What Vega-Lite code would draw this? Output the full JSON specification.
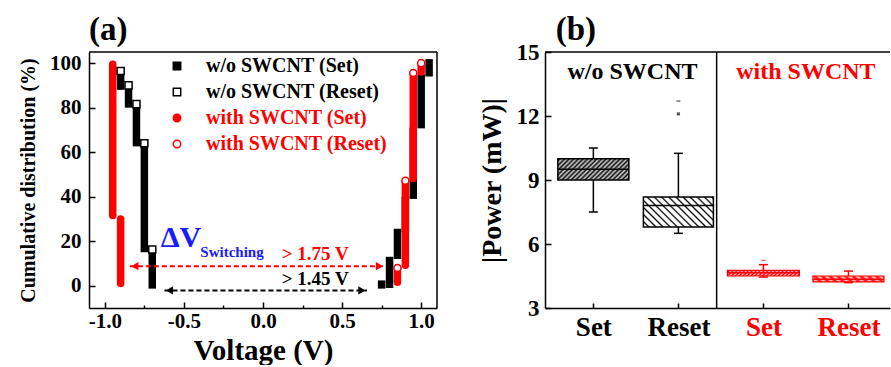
{
"$schema":"https://vega.github.io/schema/vega-lite/v6.json",
"background":"white",
"padding":{"left":18,"top":13,"right":0,"bottom":0},
"spacing":108,
"bounds":"flush",
"resolve":{"scale":{"color":"independent","fill":"independent","stroke":"independent","shape":"independent"}},
"config":{
 "font":"Liberation Serif",
 "view":{"stroke":null},
 "axis":{"labelFont":"Liberation Serif","labelFontWeight":"bold","labelColor":"black","titleFont":"Liberation Serif","titleFontWeight":"bold","titleColor":"black","domainColor":"black","domainWidth":1.5,"tickColor":"black","tickWidth":1.5,"grid":false,"labelOverlap":false}
},
"datasets":{
 "cols":[
  {"group":"w/o SWCNT","v":-0.90,"lo":88,"hi":96.5},
  {"group":"w/o SWCNT","v":-0.85,"lo":80,"hi":90},
  {"group":"w/o SWCNT","v":-0.80,"lo":62.6,"hi":81.6},
  {"group":"w/o SWCNT","v":-0.75,"lo":15,"hi":64},
  {"group":"w/o SWCNT","v":-0.70,"lo":-1.3,"hi":16.3},
  {"group":"w/o SWCNT","v":0.75,"lo":-1.3,"hi":2.4},
  {"group":"w/o SWCNT","v":0.80,"lo":-1,"hi":13},
  {"group":"w/o SWCNT","v":0.85,"lo":12,"hi":25.6},
  {"group":"w/o SWCNT","v":0.90,"lo":24,"hi":40},
  {"group":"w/o SWCNT","v":0.95,"lo":39,"hi":71},
  {"group":"w/o SWCNT","v":1.00,"lo":70.7,"hi":95},
  {"group":"w/o SWCNT","v":1.05,"lo":94,"hi":101.8},
  {"group":"with SWCNT","v":-0.95,"lo":31.5,"hi":99.5},
  {"group":"with SWCNT","v":-0.90,"lo":1,"hi":30},
  {"group":"with SWCNT","v":0.85,"lo":1.6,"hi":8},
  {"group":"with SWCNT","v":0.90,"lo":9.2,"hi":47.2},
  {"group":"with SWCNT","v":0.95,"lo":48.2,"hi":95.6},
  {"group":"with SWCNT","v":1.00,"lo":96,"hi":100}
 ],
 "tops":[
  {"series":"w/o SWCNT (Reset)","v":-0.90,"p":96.5},
  {"series":"w/o SWCNT (Reset)","v":-0.85,"p":90},
  {"series":"w/o SWCNT (Reset)","v":-0.80,"p":81.6},
  {"series":"w/o SWCNT (Reset)","v":-0.75,"p":64},
  {"series":"w/o SWCNT (Reset)","v":-0.70,"p":16.3},
  {"series":"with SWCNT (Reset)","v":0.85,"p":8},
  {"series":"with SWCNT (Reset)","v":0.90,"p":47.2},
  {"series":"with SWCNT (Reset)","v":0.95,"p":95.6},
  {"series":"with SWCNT (Reset)","v":1.00,"p":100}
 ],
 "arrows":[
  {"group":"with SWCNT","x1":-0.842,"x2":0.768,"y":8.8},
  {"group":"w/o SWCNT","x1":-0.623,"x2":0.657,"y":-2.1}
 ],
 "notes":[
  {"label":"ΔV","x":-0.646,"y":17.5,"kind":"dv"},
  {"label":"Switching","x":-0.396,"y":13,"kind":"sub"},
  {"label":"> 1.75 V","x":0.118,"y":11.7,"kind":"red"},
  {"label":"> 1.45 V","x":0.118,"y":0.4,"kind":"black"},
  {"label":"(a)","x":-1.1,"y":110.5,"kind":"panel"}
 ],
 "frameA":[{"ytop":105,"xright":1.1}],
 "boxes":[
  {"pos":1,"group":"w/o SWCNT","lo":7.5,"q1":9.0,"med":9.5,"q3":10.0,"hi":10.5},
  {"pos":2,"group":"w/o SWCNT","lo":6.5,"q1":6.8,"med":7.8,"q3":8.2,"hi":10.25},
  {"pos":3,"group":"with SWCNT","lo":4.45,"q1":4.5,"med":4.65,"q3":4.76,"hi":5.03},
  {"pos":4,"group":"with SWCNT","lo":4.19,"q1":4.22,"med":4.35,"q3":4.5,"hi":4.73}
 ],
 "outliers":[
  {"pos":2,"group":"w/o SWCNT","val":12.1,"kind":"x"},
  {"pos":2,"group":"w/o SWCNT","val":12.7,"kind":"dash"},
  {"pos":3,"group":"with SWCNT","val":5.23,"kind":"dash"}
 ],
 "heads":[
  {"label":"w/o SWCNT","pos":1.46,"y":13.72,"group":"w/o SWCNT"},
  {"label":"with SWCNT","pos":3.5,"y":13.72,"group":"with SWCNT"}
 ],
 "panelB":[{"label":"(b)","pos":0.558,"y":15.56}],
 "frame":[{"ytop":15,"xdiv":2.45}]
},
"hconcat":[
 {
  "width":348,"height":256,
  "layer":[
   {"data":{"name":"cols"},"transform":[{"filter":"datum.group == 'w/o SWCNT'"}],
    "mark":{"type":"rule","strokeWidth":7.5,"strokeCap":"butt"},
    "encoding":{
     "x":{"field":"v","type":"quantitative","scale":{"domain":[-1.1,1.1],"nice":false,"zero":false},
      "axis":{"title":"Voltage (V)","values":[-1,-0.75,-0.5,-0.25,0,0.25,0.5,0.75,1],"labelExpr":"(datum.value * 4) % 2 != 0 ? '' : (datum.value < 0 ? '-' : '') + format(abs(datum.value), '.1f')","tickSize":{"condition":{"test":"(datum.value * 4) % 2 != 0","value":-3},"value":-6},"labelPadding":8,"labelFontSize":21,"titleFontSize":29,"titlePadding":2}},
     "y":{"field":"lo","type":"quantitative","scale":{"domain":[-10,105],"nice":false,"zero":false},
      "axis":{"title":"Cumulative distribution (%)","values":[0,10,20,30,40,50,60,70,80,90,100],"labelExpr":"datum.value % 20 == 0 ? datum.label : ''","tickSize":{"condition":{"test":"datum.value % 20 != 0","value":-3},"value":-6},"labelPadding":14,"labelFontSize":21,"titleFontSize":20,"titlePadding":11}},
     "y2":{"field":"hi"},
     "color":{"field":"group","type":"nominal","scale":{"domain":["w/o SWCNT","with SWCNT"],"range":["black","red"]},"legend":null}
    }},
   {"data":{"name":"frameA"},
    "mark":{"type":"rule","strokeWidth":1.5,"color":"black"},
    "encoding":{"y":{"field":"ytop","type":"quantitative"}}},
   {"data":{"name":"frameA"},
    "mark":{"type":"rule","strokeWidth":1.5,"color":"black"},
    "encoding":{"x":{"field":"xright","type":"quantitative"}}},
   {"data":{"name":"cols"},"transform":[{"filter":"datum.group == 'with SWCNT'"}],
    "mark":{"type":"rule","strokeWidth":7.5,"strokeCap":"round"},
    "encoding":{
     "x":{"field":"v","type":"quantitative"},
     "y":{"field":"lo","type":"quantitative"},
     "y2":{"field":"hi"},
     "color":{"field":"group","type":"nominal","scale":{"domain":["w/o SWCNT","with SWCNT"],"range":["black","red"]},"legend":null}
    }},
   {"data":{"name":"arrows"},
    "mark":{"type":"rule","strokeWidth":2,"strokeDash":[5,3]},
    "encoding":{
     "x":{"field":"x1","type":"quantitative"},
     "x2":{"field":"x2"},
     "y":{"field":"y","type":"quantitative"},
     "color":{"field":"group","type":"nominal","scale":{"domain":["w/o SWCNT","with SWCNT"],"range":["black","red"]},"legend":null}
    }},
   {"data":{"name":"arrows"},
    "mark":{"type":"point","shape":"triangle-left","filled":true,"size":70,"opacity":1,"xOffset":5},
    "encoding":{
     "x":{"field":"x1","type":"quantitative"},
     "y":{"field":"y","type":"quantitative"},
     "color":{"field":"group","type":"nominal","scale":{"domain":["w/o SWCNT","with SWCNT"],"range":["black","red"]},"legend":null}
    }},
   {"data":{"name":"arrows"},
    "mark":{"type":"point","shape":"triangle-right","filled":true,"size":70,"opacity":1,"xOffset":-5},
    "encoding":{
     "x":{"field":"x2","type":"quantitative"},
     "y":{"field":"y","type":"quantitative"},
     "color":{"field":"group","type":"nominal","scale":{"domain":["w/o SWCNT","with SWCNT"],"range":["black","red"]},"legend":null}
    }},
   {"data":{"name":"tops"},
    "mark":{"type":"point","filled":true,"size":50,"strokeWidth":1.5,"opacity":1},
    "encoding":{
     "x":{"field":"v","type":"quantitative"},
     "y":{"field":"p","type":"quantitative"},
     "shape":{"field":"series","type":"nominal","scale":{"domain":["w/o SWCNT (Set)","w/o SWCNT (Reset)","with SWCNT (Set)","with SWCNT (Reset)"],"range":["square","square","circle","circle"]},
      "legend":{"title":null,"orient":"none","legendX":78,"legendY":4,"labelFont":"Liberation Serif","labelFontWeight":"bold","labelFontSize":20,"labelColor":{"expr":"indexof(datum.label, 'with') == 0 ? 'red' : 'black'"},"symbolSize":55,"symbolStrokeWidth":1.5,"rowPadding":6,"labelOffset":19,"labelLimit":300}},
     "fill":{"field":"series","type":"nominal","scale":{"domain":["w/o SWCNT (Set)","w/o SWCNT (Reset)","with SWCNT (Set)","with SWCNT (Reset)"],"range":["black","white","red","white"]},
      "legend":{"title":null,"orient":"none","legendX":78,"legendY":4,"labelFont":"Liberation Serif","labelFontWeight":"bold","labelFontSize":20,"labelColor":{"expr":"indexof(datum.label, 'with') == 0 ? 'red' : 'black'"},"symbolSize":55,"symbolStrokeWidth":1.5,"rowPadding":6,"labelOffset":19,"labelLimit":300}},
     "stroke":{"field":"series","type":"nominal","scale":{"domain":["w/o SWCNT (Set)","w/o SWCNT (Reset)","with SWCNT (Set)","with SWCNT (Reset)"],"range":["black","black","red","red"]},
      "legend":{"title":null,"orient":"none","legendX":78,"legendY":4,"labelFont":"Liberation Serif","labelFontWeight":"bold","labelFontSize":20,"labelColor":{"expr":"indexof(datum.label, 'with') == 0 ? 'red' : 'black'"},"symbolSize":55,"symbolStrokeWidth":1.5,"rowPadding":6,"labelOffset":19,"labelLimit":300}}
    }},
   {"data":{"name":"notes"},"transform":[{"filter":"datum.kind == 'dv'"}],
    "mark":{"type":"text","fontSize":30,"fontWeight":"bold","font":"Liberation Serif","color":"#1a1aff","align":"left","baseline":"alphabetic"},
    "encoding":{"x":{"field":"x","type":"quantitative"},"y":{"field":"y","type":"quantitative"},"text":{"field":"label"}}},
   {"data":{"name":"notes"},"transform":[{"filter":"datum.kind == 'sub'"}],
    "mark":{"type":"text","fontSize":15,"fontWeight":"bold","font":"Liberation Serif","color":"#1a1aff","align":"left","baseline":"alphabetic"},
    "encoding":{"x":{"field":"x","type":"quantitative"},"y":{"field":"y","type":"quantitative"},"text":{"field":"label"}}},
   {"data":{"name":"notes"},"transform":[{"filter":"datum.kind == 'red'"}],
    "mark":{"type":"text","fontSize":19,"fontWeight":"bold","font":"Liberation Serif","color":"red","align":"left","baseline":"alphabetic"},
    "encoding":{"x":{"field":"x","type":"quantitative"},"y":{"field":"y","type":"quantitative"},"text":{"field":"label"}}},
   {"data":{"name":"notes"},"transform":[{"filter":"datum.kind == 'black'"}],
    "mark":{"type":"text","fontSize":19,"fontWeight":"bold","font":"Liberation Serif","color":"black","align":"left","baseline":"alphabetic"},
    "encoding":{"x":{"field":"x","type":"quantitative"},"y":{"field":"y","type":"quantitative"},"text":{"field":"label"}}},
   {"data":{"name":"notes"},"transform":[{"filter":"datum.kind == 'panel'"}],
    "mark":{"type":"text","fontSize":33,"fontWeight":"bold","font":"Liberation Serif","color":"black","align":"left","baseline":"alphabetic"},
    "encoding":{"x":{"field":"x","type":"quantitative"},"y":{"field":"y","type":"quantitative"},"text":{"field":"label"}}}
  ]
 },
 {
  "width":345,"height":256,
  "layer":[
   {"data":{"name":"boxes"},
    "mark":{"type":"rule","strokeWidth":1.5},
    "encoding":{
     "x":{"field":"pos","type":"quantitative","scale":{"domain":[0.49,4.43],"nice":false,"zero":false},
      "axis":{"title":null,"values":[1,2,3,4],"labelExpr":"datum.value % 2 == 1 ? 'Set' : 'Reset'","labelColor":{"condition":{"test":"datum.value > 2.5","value":"red"},"value":"black"},"tickSize":-5,"labelPadding":11,"labelFontSize":27}},
     "y":{"field":"lo","type":"quantitative","scale":{"domain":[3,15],"nice":false,"zero":false},
      "axis":{"title":"|Power (mW)|","values":[3,4.5,6,7.5,9,10.5,12,13.5,15],"labelExpr":"datum.value % 3 == 0 ? datum.label : ''","tickSize":{"condition":{"test":"datum.value % 3 != 0","value":-3},"value":-6},"labelPadding":12,"labelFontSize":23,"titleFontSize":28,"titlePadding":10}},
     "y2":{"field":"hi"},
     "color":{"field":"group","type":"nominal","scale":{"domain":["w/o SWCNT","with SWCNT"],"range":["black","red"]},"legend":null}
    }},
   {"data":{"name":"boxes"},
    "mark":{"type":"tick","orient":"horizontal","size":9,"thickness":1.5,"opacity":1},
    "encoding":{"x":{"field":"pos","type":"quantitative"},"y":{"field":"hi","type":"quantitative"},
     "color":{"field":"group","type":"nominal","scale":{"domain":["w/o SWCNT","with SWCNT"],"range":["black","red"]},"legend":null}}},
   {"data":{"name":"boxes"},
    "mark":{"type":"tick","orient":"horizontal","size":9,"thickness":1.5,"opacity":1},
    "encoding":{"x":{"field":"pos","type":"quantitative"},"y":{"field":"lo","type":"quantitative"},
     "color":{"field":"group","type":"nominal","scale":{"domain":["w/o SWCNT","with SWCNT"],"range":["black","red"]},"legend":null}}},
   {"data":{"name":"boxes"},"transform":[{"filter":"datum.pos == 1"}],
    "mark":{"type":"bar","width":71,"stroke":"black","strokeWidth":1.5,
     "fill":{"gradient":"linear","x1":0,"y1":0,"x2":1.193,"y2":0.359,"stops":[
      {"offset":0,"color":"#ccc"},{"offset":0.025,"color":"#111"},{"offset":0.05,"color":"#ccc"},{"offset":0.075,"color":"#111"},{"offset":0.1,"color":"#ccc"},{"offset":0.125,"color":"#111"},{"offset":0.15,"color":"#ccc"},{"offset":0.175,"color":"#111"},{"offset":0.2,"color":"#ccc"},{"offset":0.225,"color":"#111"},{"offset":0.25,"color":"#ccc"},{"offset":0.275,"color":"#111"},{"offset":0.3,"color":"#ccc"},{"offset":0.325,"color":"#111"},{"offset":0.35,"color":"#ccc"},{"offset":0.375,"color":"#111"},{"offset":0.4,"color":"#ccc"},{"offset":0.425,"color":"#111"},{"offset":0.45,"color":"#ccc"},{"offset":0.475,"color":"#111"},{"offset":0.5,"color":"#ccc"},{"offset":0.525,"color":"#111"},{"offset":0.55,"color":"#ccc"},{"offset":0.575,"color":"#111"},{"offset":0.6,"color":"#ccc"},{"offset":0.625,"color":"#111"},{"offset":0.65,"color":"#ccc"},{"offset":0.675,"color":"#111"},{"offset":0.7,"color":"#ccc"},{"offset":0.725,"color":"#111"},{"offset":0.75,"color":"#ccc"},{"offset":0.775,"color":"#111"},{"offset":0.8,"color":"#ccc"},{"offset":0.825,"color":"#111"},{"offset":0.85,"color":"#ccc"},{"offset":0.875,"color":"#111"},{"offset":0.9,"color":"#ccc"},{"offset":0.925,"color":"#111"},{"offset":0.95,"color":"#ccc"},{"offset":0.975,"color":"#111"},{"offset":1,"color":"#ccc"}]}},
    "encoding":{"x":{"field":"pos","type":"quantitative"},"y":{"field":"q1","type":"quantitative"},"y2":{"field":"q3"}}},
   {"data":{"name":"boxes"},"transform":[{"filter":"datum.pos == 2"}],
    "mark":{"type":"bar","width":70,"stroke":"black","strokeWidth":1.5,
     "fill":{"gradient":"linear","x1":0,"y1":1,"x2":1.207,"y2":0.482,"stops":[
      {"offset":0,"color":"#fff"},
      {"offset":0.0357,"color":"#fff"},{"offset":0.0536,"color":"#000"},{"offset":0.0714,"color":"#fff"},
      {"offset":0.1071,"color":"#fff"},{"offset":0.125,"color":"#000"},{"offset":0.1429,"color":"#fff"},
      {"offset":0.1786,"color":"#fff"},{"offset":0.1964,"color":"#000"},{"offset":0.2143,"color":"#fff"},
      {"offset":0.25,"color":"#fff"},{"offset":0.2679,"color":"#000"},{"offset":0.2857,"color":"#fff"},
      {"offset":0.3214,"color":"#fff"},{"offset":0.3393,"color":"#000"},{"offset":0.3571,"color":"#fff"},
      {"offset":0.3929,"color":"#fff"},{"offset":0.4107,"color":"#000"},{"offset":0.4286,"color":"#fff"},
      {"offset":0.4643,"color":"#fff"},{"offset":0.4821,"color":"#000"},{"offset":0.5,"color":"#fff"},
      {"offset":0.5357,"color":"#fff"},{"offset":0.5536,"color":"#000"},{"offset":0.5714,"color":"#fff"},
      {"offset":0.6071,"color":"#fff"},{"offset":0.625,"color":"#000"},{"offset":0.6429,"color":"#fff"},
      {"offset":0.6786,"color":"#fff"},{"offset":0.6964,"color":"#000"},{"offset":0.7143,"color":"#fff"},
      {"offset":0.75,"color":"#fff"},{"offset":0.7679,"color":"#000"},{"offset":0.7857,"color":"#fff"},
      {"offset":0.8214,"color":"#fff"},{"offset":0.8393,"color":"#000"},{"offset":0.8571,"color":"#fff"},
      {"offset":0.8929,"color":"#fff"},{"offset":0.9107,"color":"#000"},{"offset":0.9286,"color":"#fff"},
      {"offset":0.9643,"color":"#fff"},{"offset":0.9821,"color":"#000"},{"offset":1,"color":"#fff"}]}},
    "encoding":{"x":{"field":"pos","type":"quantitative"},"y":{"field":"q1","type":"quantitative"},"y2":{"field":"q3"}}},
   {"data":{"name":"boxes"},"transform":[{"filter":"datum.pos == 3"}],
    "mark":{"type":"bar","width":72,"stroke":"red","strokeWidth":1.2,
     "fill":{"gradient":"linear","x1":0,"y1":0,"x2":1.071,"y2":0.0833,"stops":[
      {"offset":0,"color":"#ffc8c8"},{"offset":0.025,"color":"#f00"},{"offset":0.05,"color":"#ffc8c8"},{"offset":0.075,"color":"#f00"},{"offset":0.1,"color":"#ffc8c8"},{"offset":0.125,"color":"#f00"},{"offset":0.15,"color":"#ffc8c8"},{"offset":0.175,"color":"#f00"},{"offset":0.2,"color":"#ffc8c8"},{"offset":0.225,"color":"#f00"},{"offset":0.25,"color":"#ffc8c8"},{"offset":0.275,"color":"#f00"},{"offset":0.3,"color":"#ffc8c8"},{"offset":0.325,"color":"#f00"},{"offset":0.35,"color":"#ffc8c8"},{"offset":0.375,"color":"#f00"},{"offset":0.4,"color":"#ffc8c8"},{"offset":0.425,"color":"#f00"},{"offset":0.45,"color":"#ffc8c8"},{"offset":0.475,"color":"#f00"},{"offset":0.5,"color":"#ffc8c8"},{"offset":0.525,"color":"#f00"},{"offset":0.55,"color":"#ffc8c8"},{"offset":0.575,"color":"#f00"},{"offset":0.6,"color":"#ffc8c8"},{"offset":0.625,"color":"#f00"},{"offset":0.65,"color":"#ffc8c8"},{"offset":0.675,"color":"#f00"},{"offset":0.7,"color":"#ffc8c8"},{"offset":0.725,"color":"#f00"},{"offset":0.75,"color":"#ffc8c8"},{"offset":0.775,"color":"#f00"},{"offset":0.8,"color":"#ffc8c8"},{"offset":0.825,"color":"#f00"},{"offset":0.85,"color":"#ffc8c8"},{"offset":0.875,"color":"#f00"},{"offset":0.9,"color":"#ffc8c8"},{"offset":0.925,"color":"#f00"},{"offset":0.95,"color":"#ffc8c8"},{"offset":0.975,"color":"#f00"},{"offset":1,"color":"#ffc8c8"}]}},
    "encoding":{"x":{"field":"pos","type":"quantitative"},"y":{"field":"q1","type":"quantitative"},"y2":{"field":"q3"}}},
   {"data":{"name":"boxes"},"transform":[{"filter":"datum.pos == 4"}],
    "mark":{"type":"bar","width":71,"stroke":"red","strokeWidth":1.2,
     "fill":{"gradient":"linear","x1":0,"y1":1,"x2":1.078,"y2":0.909,"stops":[
      {"offset":0,"color":"#f00"},{"offset":0.05,"color":"#ffe0e0"},{"offset":0.1,"color":"#f00"},{"offset":0.15,"color":"#ffe0e0"},{"offset":0.2,"color":"#f00"},{"offset":0.25,"color":"#ffe0e0"},{"offset":0.3,"color":"#f00"},{"offset":0.35,"color":"#ffe0e0"},{"offset":0.4,"color":"#f00"},{"offset":0.45,"color":"#ffe0e0"},{"offset":0.5,"color":"#f00"},{"offset":0.55,"color":"#ffe0e0"},{"offset":0.6,"color":"#f00"},{"offset":0.65,"color":"#ffe0e0"},{"offset":0.7,"color":"#f00"},{"offset":0.75,"color":"#ffe0e0"},{"offset":0.8,"color":"#f00"},{"offset":0.85,"color":"#ffe0e0"},{"offset":0.9,"color":"#f00"},{"offset":0.95,"color":"#ffe0e0"},{"offset":1,"color":"#f00"}]}},
    "encoding":{"x":{"field":"pos","type":"quantitative"},"y":{"field":"q1","type":"quantitative"},"y2":{"field":"q3"}}},
   {"data":{"name":"boxes"},
    "mark":{"type":"tick","orient":"horizontal","size":71,"thickness":1.5,"opacity":1},
    "encoding":{"x":{"field":"pos","type":"quantitative"},"y":{"field":"med","type":"quantitative"},
     "color":{"field":"group","type":"nominal","scale":{"domain":["w/o SWCNT","with SWCNT"],"range":["black","red"]},"legend":null}}},
   {"data":{"name":"outliers"},"transform":[{"filter":"datum.kind == 'x'"}],
    "mark":{"type":"point","shape":"cross","angle":45,"filled":true,"size":14,"opacity":0.7},
    "encoding":{"x":{"field":"pos","type":"quantitative"},"y":{"field":"val","type":"quantitative"},
     "color":{"field":"group","type":"nominal","scale":{"domain":["w/o SWCNT","with SWCNT"],"range":["black","red"]},"legend":null}}},
   {"data":{"name":"outliers"},"transform":[{"filter":"datum.kind == 'dash'"}],
    "mark":{"type":"tick","orient":"horizontal","size":4,"thickness":1.2,"opacity":0.7},
    "encoding":{"x":{"field":"pos","type":"quantitative"},"y":{"field":"val","type":"quantitative"},
     "color":{"field":"group","type":"nominal","scale":{"domain":["w/o SWCNT","with SWCNT"],"range":["black","red"]},"legend":null}}},
   {"data":{"name":"frame"},
    "mark":{"type":"rule","strokeWidth":1.5,"color":"black"},
    "encoding":{"y":{"field":"ytop","type":"quantitative"}}},
   {"data":{"name":"frame"},
    "mark":{"type":"rule","strokeWidth":1.5,"color":"black"},
    "encoding":{"x":{"field":"xdiv","type":"quantitative"}}},
   {"data":{"name":"heads"},
    "mark":{"type":"text","fontSize":24,"fontWeight":"bold","font":"Liberation Serif","align":"center","baseline":"alphabetic"},
    "encoding":{"x":{"field":"pos","type":"quantitative"},"y":{"field":"y","type":"quantitative"},"text":{"field":"label"},
     "color":{"field":"group","type":"nominal","scale":{"domain":["w/o SWCNT","with SWCNT"],"range":["black","red"]},"legend":null}}},
   {"data":{"name":"panelB"},
    "mark":{"type":"text","fontSize":33,"fontWeight":"bold","font":"Liberation Serif","color":"black","align":"left","baseline":"alphabetic"},
    "encoding":{"x":{"field":"pos","type":"quantitative"},"y":{"field":"y","type":"quantitative"},"text":{"field":"label"}}}
  ]
 }
]
}
